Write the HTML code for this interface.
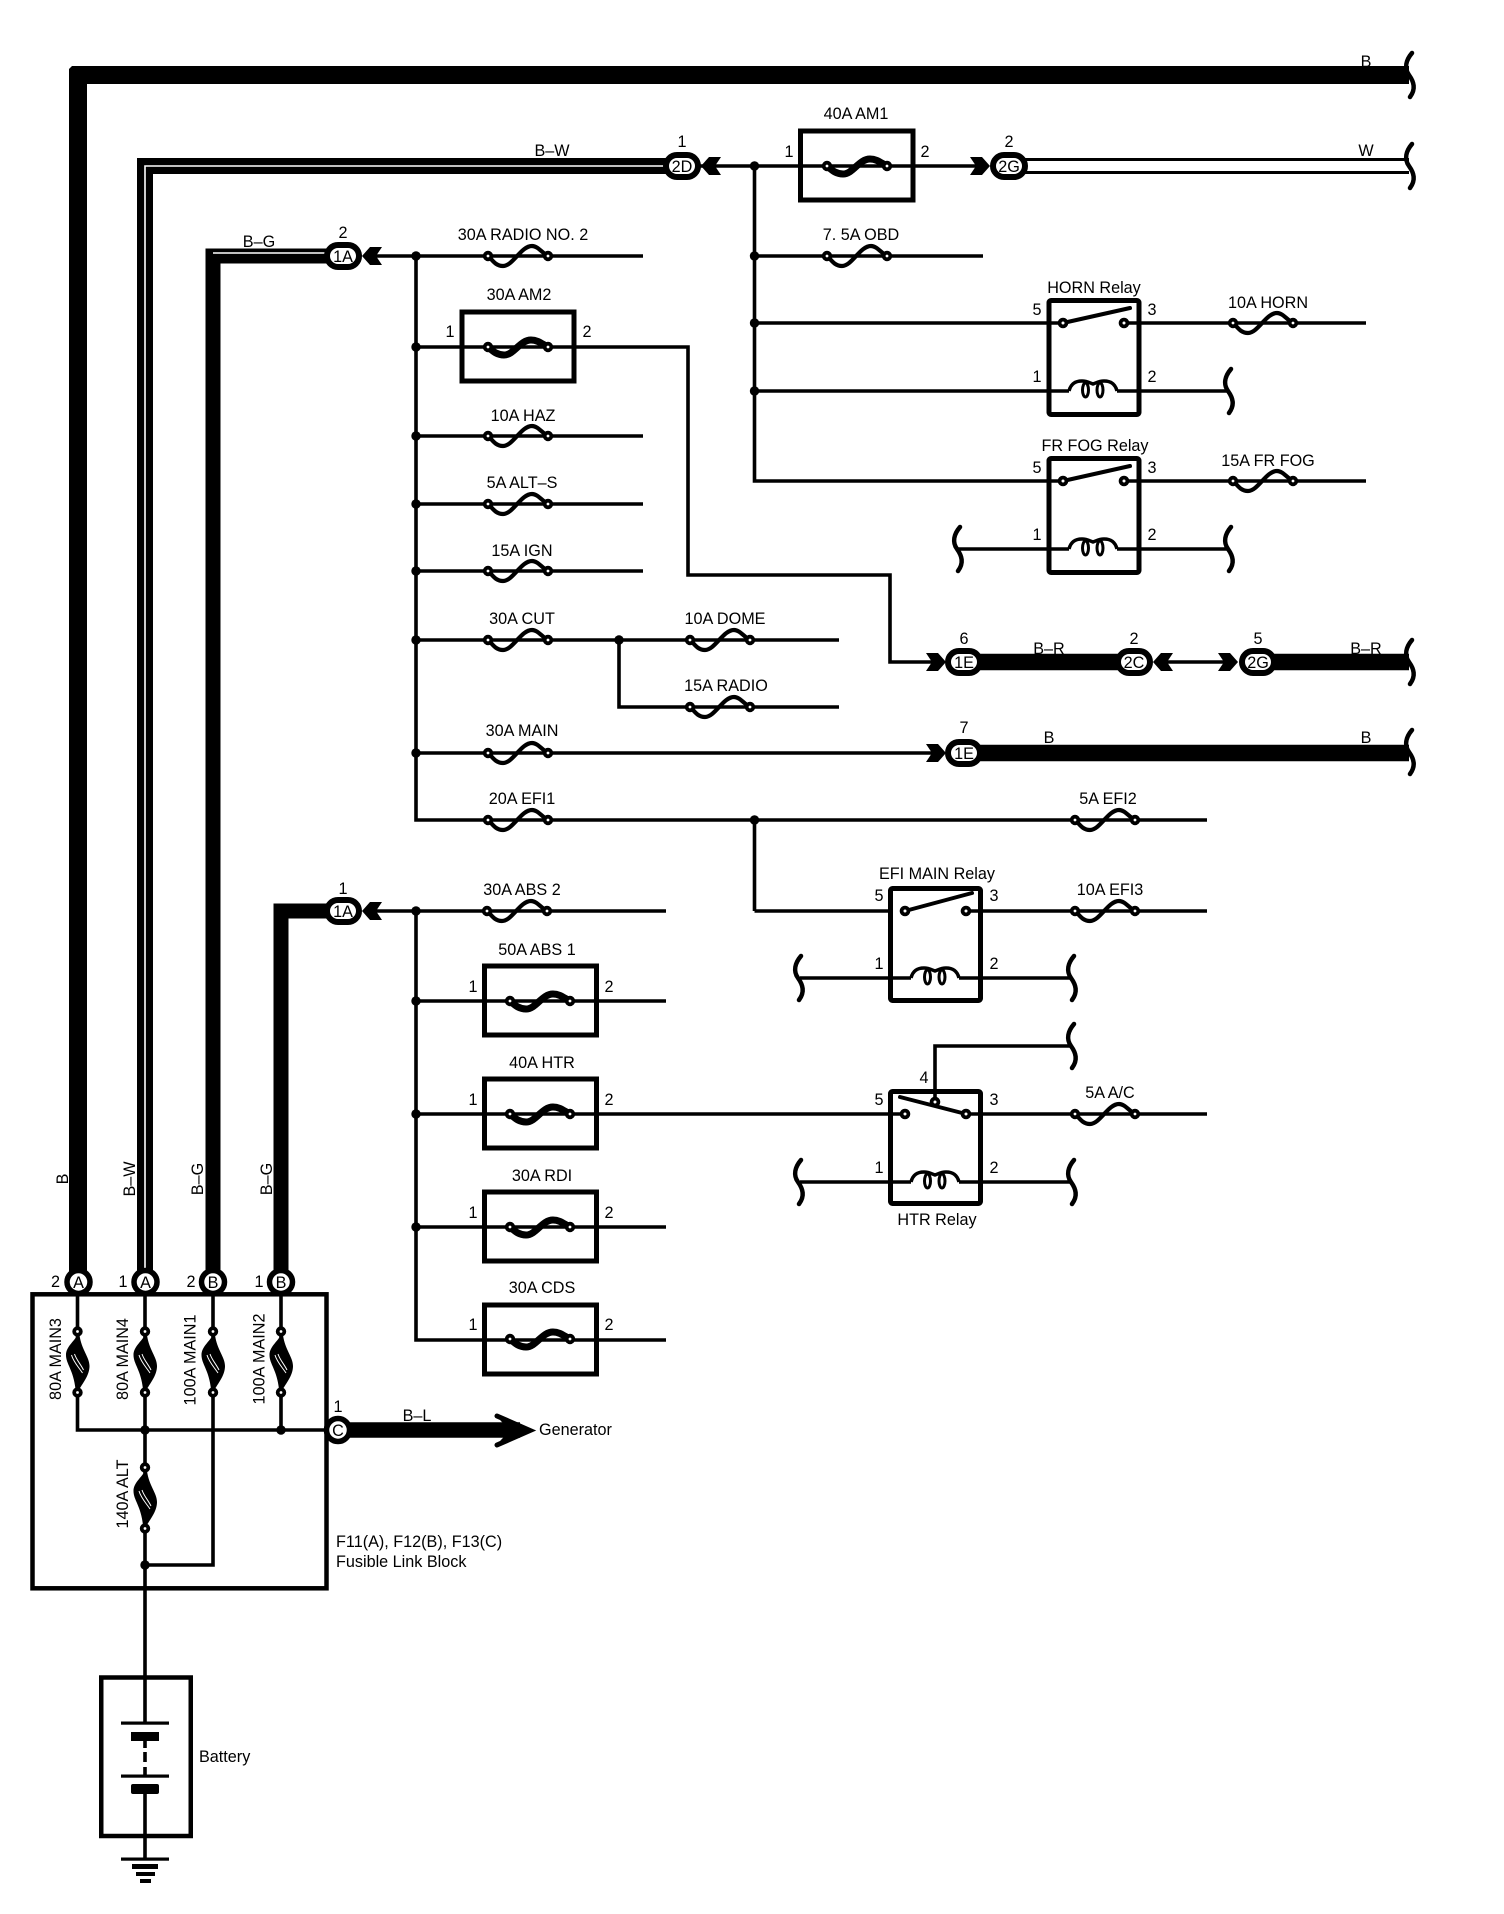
<!DOCTYPE html>
<html lang="en">
<head>
<meta charset="utf-8">
<title>Wiring diagram</title>
<style>
html,body{margin:0;padding:0;background:#fff;}
svg{display:block;}
text{font-family:"Liberation Sans",sans-serif;font-size:16.2px;fill:#000;text-anchor:middle;dominant-baseline:central;stroke:none;}
.l{text-anchor:start;}
.w{fill:none;stroke:#000;stroke-width:3.6;}
</style>
</head>
<body>
<svg xmlns="http://www.w3.org/2000/svg" width="1504" height="1914" viewBox="0 0 1504 1914">
<defs>
<g id="f">
<path d="M-30,0C-26,3-23,10-15,10C-5,10 3,-10 14,-10C20,-10 24,-3 30,0" fill="none" stroke="#000" stroke-width="4.200"/>
<circle cx="-30" cy="0" r="3.300" fill="#fff" stroke="#000" stroke-width="3.800"/>
<circle cx="30" cy="0" r="3.300" fill="#fff" stroke="#000" stroke-width="3.800"/>
</g>
<g id="F">
<path d="M-30,0C-26,3-22,8-14,8C-4,8 2,-7 13,-7C20,-7 24,-3 30,0" fill="none" stroke="#000" stroke-width="7"/>
<circle cx="-30" cy="0" r="3.300" fill="#fff" stroke="#000" stroke-width="3.800"/>
<circle cx="30" cy="0" r="3.300" fill="#fff" stroke="#000" stroke-width="3.800"/>
</g>
<g id="V">
<path d="M0,-27C-4,-20-11.500,-15-11.500,-7C-11.500,2-4,8-2,27L2,27C6,20 12,13 12,4C12,-5 4,-12 2,-27Z" fill="#000"/>
<path d="M-6,-7C-4,0 1,5 5,11M-3,-8C-1,-2 3,2 6,8" fill="none" stroke="#fff" stroke-width="1"/>
<circle cx="0" cy="-30.500" r="3.300" fill="#fff" stroke="#000" stroke-width="3.800"/>
<circle cx="0" cy="30.500" r="3.300" fill="#fff" stroke="#000" stroke-width="3.800"/>
</g>
<path id="b" d="M2,-22C-4,-15-6,-7-1,0C4,7 6,14 0,22" fill="none" stroke="#000" stroke-width="4.500" stroke-linecap="round"/>
<polygon id="a" points="-20,-9 -8,-9 0,0 -8,9 -20,9 -14,0" fill="#000"/>
<rect id="c" x="-16" y="-11" width="32" height="22" rx="11" fill="#fff" stroke="#000" stroke-width="6"/>
<g id="coil">
<path d="M-24,0C-22,-8-17,-10-11,-10C-6,-10-3,-8 0,-7C3,-8 6,-10 11,-10C17,-10 22,-8 24,0" fill="none" stroke="#000" stroke-width="3.500"/>
<ellipse cx="-7.500" cy="-1" rx="3" ry="7" fill="none" stroke="#000" stroke-width="3"/>
<ellipse cx="7" cy="-1" rx="3" ry="7" fill="none" stroke="#000" stroke-width="3"/>
</g>
<circle id="d" r="4.700" fill="#000"/>
<circle id="o" r="3.400" fill="#fff" stroke="#000" stroke-width="3.800"/>
</defs>

<!-- thick harness wires -->
<path d="M78,1282V75H1409" fill="none" stroke="#000" stroke-width="18"/>
<polygon points="68,65 73,65 68,70" fill="#fff"/>
<path d="M145,1282V166H682" fill="none" stroke="#000" stroke-width="16"/>
<path d="M145,1282V166H682" fill="none" stroke="#fff" stroke-width="1.6"/>
<path d="M213,1282V256H343" fill="none" stroke="#000" stroke-width="15"/>
<path d="M213,253H326" fill="none" stroke="#fff" stroke-width="1.6"/>
<path d="M281,1282V911H343" fill="none" stroke="#000" stroke-width="15"/>
<path d="M1009,166H1409" fill="none" stroke="#000" stroke-width="16"/>
<path d="M1009,166H1409" fill="none" stroke="#fff" stroke-width="10"/>
<path d="M964,662H1134M1258,662H1409M964,753H1409" fill="none" stroke="#000" stroke-width="16.500"/>

<!-- breaks on harness -->
<use href="#b" x="1410" y="75"/><use href="#b" x="1410" y="166"/><use href="#b" x="1410" y="662"/><use href="#b" x="1410" y="752"/>

<!-- thin wires -->
<g class="w">
<path d="M754.500,166V481H1047M376,256H643M416,256V820H1207M416,347H688V575H890V662H932M416,436H643M416,504H643M416,571H643M416,640H839M619,640V707H839M416,753H932M754.500,911H888"/>
<path d="M700,166H977M754.500,256H983M754.500,323H1063M1124,323H1366M754.500,391H1069M1117,391H1229M1124,481H1366M1047,481H1063M958,549H1069M1117,549H1229"/>
<path d="M1167,662H1225"/>
<path d="M376,911H666M416,911V1340H666M416,1001H666M416,1114H905M966,1114H1207M416,1227H666M966,911H1207"/>
<path d="M800,978H911M959,978H1072M800,1182H911M959,1182H1072M935,1102V1046H1072"/>
<path d="M754.500,820V911"/>
</g>

<!-- fuses -->
<use href="#f" x="518" y="256"/><use href="#F" x="518" y="347"/><use href="#f" x="518" y="436"/><use href="#f" x="518" y="504"/><use href="#f" x="518" y="571"/><use href="#f" x="518" y="640"/><use href="#f" x="720" y="640"/><use href="#f" x="720" y="707"/><use href="#f" x="518" y="753"/><use href="#f" x="518" y="820"/><use href="#f" x="1105" y="820"/><use href="#f" x="857" y="256"/><use href="#f" x="1263" y="323"/><use href="#f" x="1263" y="481"/><use href="#f" x="1105" y="911"/><use href="#f" x="1105" y="1114"/><use href="#f" x="517" y="911"/>

<!-- boxed fuses -->
<g fill="none" stroke="#000" stroke-width="5">
<rect x="462" y="312" width="112" height="69"/>
<rect x="800.500" y="131" width="112.500" height="69"/>
<rect x="484.500" y="966" width="112" height="69"/>
<rect x="484.500" y="1079" width="112" height="69"/>
<rect x="484.500" y="1192" width="112" height="69"/>
<rect x="484.500" y="1305" width="112" height="69"/>
</g>
<use href="#F" x="857" y="166"/><use href="#F" x="540" y="1001"/><use href="#F" x="540" y="1114"/><use href="#F" x="540" y="1227"/><use href="#F" x="540" y="1339"/>

<!-- relays -->
<g fill="none" stroke="#000" stroke-width="5">
<rect x="1049" y="300.500" width="90" height="114" rx="2"/>
<rect x="1049" y="458.500" width="90" height="114" rx="2"/>
<rect x="890.500" y="888.500" width="90" height="112" rx="2"/>
<rect x="890.500" y="1091.500" width="90" height="112" rx="2"/>
</g>
<g stroke="#000" stroke-width="4" stroke-linecap="round">
<line x1="1063" y1="323" x2="1130" y2="308"/>
<line x1="1063" y1="481" x2="1130" y2="466"/>
<line x1="905" y1="911" x2="972" y2="893"/>
<line x1="900" y1="1097" x2="966" y2="1114"/>
</g>
<use href="#o" x="1063" y="323"/><use href="#o" x="1124" y="323"/><use href="#o" x="1063" y="481"/><use href="#o" x="1124" y="481"/><use href="#o" x="905" y="911"/><use href="#o" x="966" y="911"/><use href="#o" x="905" y="1114"/><use href="#o" x="966" y="1114"/><use href="#o" x="935" y="1102"/>
<use href="#coil" x="1093" y="391"/><use href="#coil" x="1093" y="549"/><use href="#coil" x="935" y="978"/><use href="#coil" x="935" y="1182"/>
<use href="#b" x="1229" y="391"/><use href="#b" x="1229" y="549"/><use href="#b" x="958" y="549"/><use href="#b" x="799" y="978"/><use href="#b" x="1072" y="978"/><use href="#b" x="799" y="1182"/><use href="#b" x="1072" y="1182"/><use href="#b" x="1072" y="1046"/>

<!-- junction dots -->
<use href="#d" x="416" y="256"/><use href="#d" x="416" y="347"/><use href="#d" x="416" y="436"/><use href="#d" x="416" y="504"/><use href="#d" x="416" y="571"/><use href="#d" x="416" y="640"/><use href="#d" x="619" y="640"/><use href="#d" x="416" y="753"/><use href="#d" x="754.500" y="820"/><use href="#d" x="754.500" y="166"/><use href="#d" x="754.500" y="256"/><use href="#d" x="754.500" y="323"/><use href="#d" x="754.500" y="391"/><use href="#d" x="416" y="911"/><use href="#d" x="416" y="1001"/><use href="#d" x="416" y="1114"/><use href="#d" x="416" y="1227"/>

<!-- connector arrows -->
<use href="#a" transform="translate(946,662)"/>
<use href="#a" transform="translate(946,753)"/>
<use href="#a" transform="translate(1238,662)"/>
<use href="#a" transform="translate(990,166)"/>
<use href="#a" transform="translate(1153,662) scale(-1,1)"/>
<use href="#a" transform="translate(701,166) scale(-1,1)"/>
<use href="#a" transform="translate(362,256) scale(-1,1)"/>
<use href="#a" transform="translate(362,911) scale(-1,1)"/>

<!-- oval connectors -->
<g><use href="#c" x="682" y="166"/><text x="682" y="167">2D</text></g>
<g><use href="#c" x="1009" y="166"/><text x="1009" y="167">2G</text></g>
<g><use href="#c" x="343" y="256"/><text x="343" y="257">1A</text></g>
<g><use href="#c" x="343" y="911"/><text x="343" y="912">1A</text></g>
<g><use href="#c" x="964" y="662"/><text x="964" y="663">1E</text></g>
<g><use href="#c" x="964" y="753"/><text x="964" y="754">1E</text></g>
<g><use href="#c" x="1134" y="662"/><text x="1134" y="663">2C</text></g>
<g><use href="#c" x="1258" y="662"/><text x="1258" y="663">2G</text></g>

<!-- fusible link block -->
<rect x="32.500" y="1294.300" width="294" height="294" fill="none" stroke="#000" stroke-width="4.500"/>
<g class="w">
<path d="M77.500,1296V1430H328M145,1296V1723M213,1296V1565H145M281,1296V1430"/>
<path d="M145,1741V1748M145,1752V1762M145,1767V1776M145,1794V1859"/>
</g>
<use href="#V" x="77.500" y="1362"/><use href="#V" x="145" y="1362"/><use href="#V" x="213" y="1362"/><use href="#V" x="281" y="1362"/><use href="#V" x="145" y="1498"/>
<use href="#d" x="145" y="1430"/><use href="#d" x="281" y="1430"/><use href="#d" x="145" y="1565"/>
<g fill="#fff" stroke="#000" stroke-width="5.500">
<circle cx="78.500" cy="1282" r="11.500"/><circle cx="145.500" cy="1282" r="11.500"/><circle cx="213" cy="1282" r="11.500"/><circle cx="281" cy="1282" r="11.500"/>
</g>
<text x="78.500" y="1283">A</text><text x="145.500" y="1283">A</text><text x="213" y="1283">B</text><text x="281" y="1283">B</text>
<path d="M338,1430H520" stroke="#000" stroke-width="15.500" fill="none"/>
<path d="M497,1416L530,1430.500L497,1445" fill="none" stroke="#000" stroke-width="5" stroke-linecap="round"/>
<polygon points="500,1420 533,1430.500 500,1441 510,1430.500" fill="#000"/>
<circle cx="338" cy="1430" r="11.500" fill="#fff" stroke="#000" stroke-width="5.500"/>
<text x="338" y="1431">C</text>

<!-- battery -->
<rect x="101.250" y="1677.500" width="89.500" height="158.500" fill="none" stroke="#000" stroke-width="4.500"/>
<rect x="121" y="1721.500" width="48" height="3.200" fill="#000"/>
<rect x="131" y="1732" width="28" height="9" fill="#000"/>
<rect x="121" y="1774.500" width="48" height="3.200" fill="#000"/>
<rect x="131" y="1784" width="28" height="10" rx="2" fill="#000"/>
<rect x="121" y="1857.500" width="48" height="3.200" fill="#000"/>
<rect x="132" y="1864" width="26" height="5" fill="#000"/>
<rect x="136" y="1872" width="19" height="4" fill="#000"/>
<rect x="140" y="1879" width="11" height="4" fill="#000"/>

<!-- labels -->
<g transform="translate(0,1)">
<text x="1366" y="61">B</text>
<text x="1366" y="150">W</text>
<text x="552" y="150">B–W</text>
<text x="682" y="141">1</text>
<text x="259" y="241">B–G</text>
<text x="343" y="232">2</text>
<text x="343" y="888">1</text>
<text x="856" y="113">40A AM1</text>
<text x="789" y="151">1</text><text x="925" y="151">2</text>
<text x="1009" y="141">2</text>
<text x="861" y="234">7. 5A OBD</text>
<text x="523" y="234">30A RADIO NO. 2</text>
<text x="519" y="294">30A AM2</text>
<text x="450" y="331">1</text><text x="587" y="331">2</text>
<text x="523" y="415">10A HAZ</text>
<text x="522" y="482">5A ALT–S</text>
<text x="522" y="550">15A IGN</text>
<text x="522" y="618">30A CUT</text>
<text x="725" y="618">10A DOME</text>
<text x="726" y="685">15A RADIO</text>
<text x="522" y="730">30A MAIN</text>
<text x="522" y="798">20A EFI1</text>
<text x="1108" y="798">5A EFI2</text>
<text x="1094" y="287">HORN Relay</text>
<text x="1037" y="309">5</text><text x="1152" y="309">3</text><text x="1037" y="376">1</text><text x="1152" y="376">2</text>
<text x="1268" y="302">10A HORN</text>
<text x="1095" y="445">FR FOG Relay</text>
<text x="1037" y="467">5</text><text x="1152" y="467">3</text><text x="1037" y="534">1</text><text x="1152" y="534">2</text>
<text x="1268" y="460">15A FR FOG</text>
<text x="964" y="638">6</text><text x="1134" y="638">2</text><text x="1258" y="638">5</text>
<text x="1049" y="648">B–R</text><text x="1366" y="648">B–R</text>
<text x="964" y="727">7</text>
<text x="1049" y="737">B</text><text x="1366" y="737">B</text>
<text x="937" y="873">EFI MAIN Relay</text>
<text x="879" y="895">5</text><text x="994" y="895">3</text><text x="879" y="963">1</text><text x="994" y="963">2</text>
<text x="1110" y="889">10A EFI3</text>
<text x="924" y="1077">4</text>
<text x="879" y="1099">5</text><text x="994" y="1099">3</text><text x="879" y="1167">1</text><text x="994" y="1167">2</text>
<text x="1110" y="1092">5A A/C</text>
<text x="937" y="1219">HTR Relay</text>
<text x="522" y="889">30A ABS 2</text>
<text x="537" y="949">50A ABS 1</text>
<text x="473" y="986">1</text><text x="609" y="986">2</text>
<text x="542" y="1062">40A HTR</text>
<text x="473" y="1099">1</text><text x="609" y="1099">2</text>
<text x="542" y="1175">30A RDI</text>
<text x="473" y="1212">1</text><text x="609" y="1212">2</text>
<text x="542" y="1287">30A CDS</text>
<text x="473" y="1324">1</text><text x="609" y="1324">2</text>
<text x="55.500" y="1281">2</text><text x="123" y="1281">1</text><text x="191" y="1281">2</text><text x="259" y="1281">1</text>
<text transform="translate(63,1178) rotate(-90)">B</text>
<text transform="translate(130,1178) rotate(-90)">B–W</text>
<text transform="translate(198,1178) rotate(-90)">B–G</text>
<text transform="translate(267,1178) rotate(-90)">B–G</text>
<text transform="translate(56,1358) rotate(-90)">80A MAIN3</text>
<text transform="translate(123,1358) rotate(-90)">80A MAIN4</text>
<text transform="translate(190.500,1359) rotate(-90)">100A MAIN1</text>
<text transform="translate(259.500,1358) rotate(-90)">100A MAIN2</text>
<text transform="translate(123,1493) rotate(-90)">140A ALT</text>
<text x="338" y="1406">1</text>
<text x="417" y="1415">B–L</text>
<text class="l" x="539" y="1429">Generator</text>
<text class="l" x="336" y="1541">F11(A), F12(B), F13(C)</text>
<text class="l" x="336" y="1561">Fusible Link Block</text>
<text class="l" x="199" y="1756">Battery</text>
</g>
</svg>
</body>
</html>
